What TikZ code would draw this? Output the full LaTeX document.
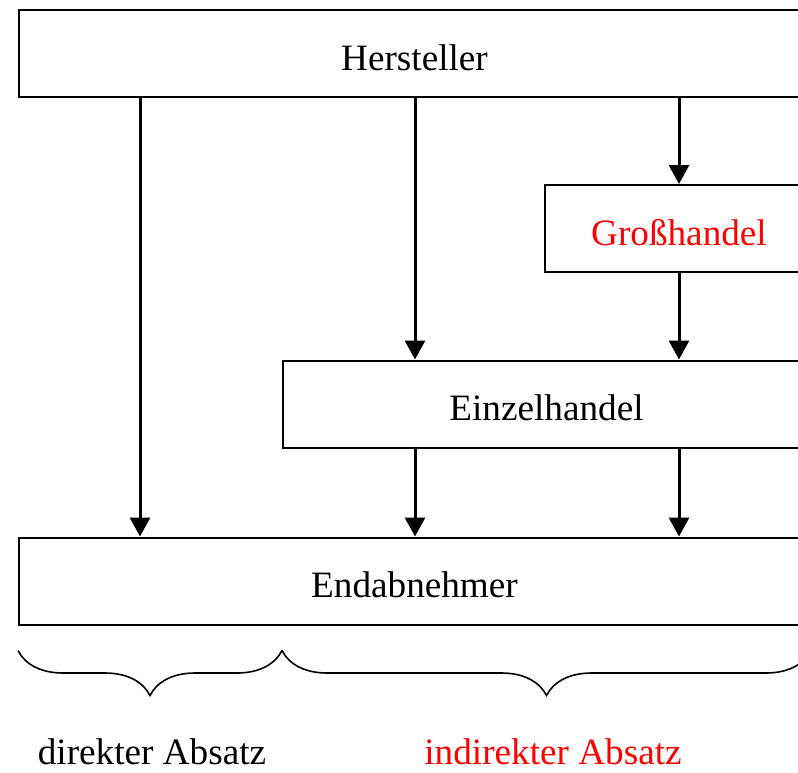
\documentclass[tikz,border=0pt]{standalone}
\usepackage{fontspec}
\setmainfont{Liberation Serif}
\usetikzlibrary{positioning,arrows.meta,decorations.pathreplacing}
\definecolor{hred}{HTML}{FF0000}

\tikzset{
  box/.style={draw,line width=1pt,rectangle,inner sep=0pt,minimum height=43.5pt,text height=16.5pt,text depth=0pt,font=\fontsize{18.6}{22}\selectfont},
  arr/.style={line width=1.5pt,-{Triangle[width=10pt,length=9.5pt]}},
  brace/.style={line width=0.8pt,decorate,decoration={brace,mirror,amplitude=22.5pt}},
  lbl/.style={font=\fontsize{18.6}{22}\selectfont}
}

\begin{document}
\begin{tikzpicture}[x=0.5pt,y=-0.5pt]
    \useasboundingbox (0,0) rectangle (798,772);
    % boxes
    \node[box,minimum width=395.5pt] (hst) at (414.5,53.5) {Hersteller};
    \node[box,minimum width=134pt,text=hred] (gh) at (679,228.5) {Großhandel};
    \node[box,minimum width=263.5pt] (ez) at (546.5,404) {Einzelhandel};
    \node[box,minimum width=395.5pt] (end) at (414.5,581) {Endabnehmer};
    % columns
    \coordinate (c1) at (140,0);
    \coordinate (c2) at (415,0);
    \coordinate (c3) at (679,0);
    % arrows
    \draw[arr] (c1 |- hst.south) -- (c1 |- end.north);
    \draw[arr] (c2 |- hst.south) -- (c2 |- ez.north);
    \draw[arr] (c3 |- hst.south) -- (gh.north);
    \draw[arr] (gh.south) -- (c3 |- ez.north);
    \draw[arr] (c2 |- ez.south) -- (c2 |- end.north);
    \draw[arr] (c3 |- ez.south) -- (c3 |- end.north);
    % braces
    \coordinate (b0) at ([yshift=-12.5pt]end.south west);
    \coordinate (b1) at (b0 -| ez.west);
    \coordinate (b2) at (b0 -| end.east);
    \draw[brace] (b0) -- (b1);
    \draw[brace] (b1) -- (b2);
    \node[lbl] (dir) at (152,752) {direkter Absatz};
    \node[lbl,text=hred] (ind) at (553,752) {indirekter Absatz};
  \end{tikzpicture}
\end{document}
